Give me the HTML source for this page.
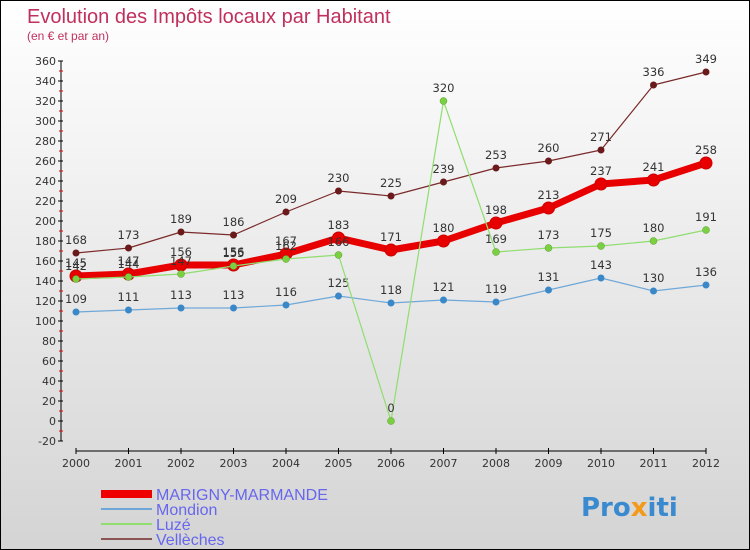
<!DOCTYPE html>
<html><head><meta charset="utf-8"><style>
body{margin:0}
#c{width:748px;height:548px;border:1px solid #000;background:linear-gradient(#fff,#d4d4d4);position:relative;font-family:"DejaVu Sans","Liberation Sans",sans-serif;overflow:hidden}
</style></head><body>
<div id="c">
<svg id="s" width="748" height="548">
<text x="26" y="22" font-size="20" fill="#c0305e" font-family="Liberation Sans, sans-serif">Evolution des Impôts locaux par Habitant</text>
<text x="26" y="39" font-size="12" fill="#c0305e" font-family="Liberation Sans, sans-serif">(en € et par an)</text>
<g id="ax"></g><g id="ser"></g>
<g font-family="Liberation Sans, sans-serif">
<rect x="100" y="489" width="51" height="8" fill="#e00"/>
<text x="155" y="499" font-size="16" fill="#6666ee">MARIGNY-MARMANDE</text>
<rect x="100" y="507" width="51" height="2" fill="#6fa8d8"/>
<text x="155" y="514" font-size="16" fill="#6666ee">Mondion</text>
<rect x="100" y="522" width="51" height="2" fill="#90dd70"/>
<text x="155" y="529" font-size="16" fill="#6666ee">Luzé</text>
<rect x="100" y="537" width="51" height="2" fill="#8b5555"/>
<text x="155" y="544" font-size="16" fill="#6666ee">Vellèches</text>
</g>
<text x="580" y="515" font-size="26" font-weight="bold" fill="#3a8ad0">Pro<tspan fill="#f39a1a">x</tspan>iti</text>
</svg></div>
<script>
const years=["2000","2001","2002","2003","2004","2005","2006","2007","2008","2009","2010","2011","2012"];
const marigny=[145,147,156,156,167,183,171,180,198,213,237,241,258];
const mondion=[109,111,113,113,116,125,118,121,119,131,143,130,136];
const luze=[142,144,147,155,162,166,0,320,169,173,175,180,191];
const velleches=[168,173,189,186,209,230,225,239,253,260,271,336,349];
const yTicks=[-20,0,20,40,60,80,100,120,140,160,180,200,220,240,260,280,300,320,340,360];
const NS="http://www.w3.org/2000/svg";
const X=i=>75+i*52.5, Y=v=>420-v;
function mk(p,t,a){const e=document.createElementNS(NS,t);for(const k in a)e.setAttribute(k,a[k]);p.appendChild(e);return e;}
const ax=document.getElementById('ax'),ser=document.getElementById('ser');
let l=mk(ax,'line',{x1:60,y1:Y(360),x2:60,y2:Y(-20),stroke:'#000'});

yTicks.forEach((v,k)=>{mk(ax,'line',{x1:57,x2:62,y1:Y(v),y2:Y(v),stroke:'#000'});
 if(k>0) mk(ax,'line',{x1:58,x2:62,y1:Y(v)+10,y2:Y(v)+10,stroke:'#e00'});
 const t=mk(ax,'text',{x:55,y:Y(v)+4,'font-size':11,fill:'#333','text-anchor':'end'});t.textContent=v;
 });
l=mk(ax,'line',{x1:X(0),y1:450,x2:X(12),y2:450,stroke:'#000'});

years.forEach((y,i)=>{mk(ax,'line',{x1:X(i),x2:X(i),y1:447,y2:453,stroke:'#000'});
 const t=mk(ax,'text',{x:X(i),y:466,'font-size':11,fill:'#333','text-anchor':'middle'});t.textContent=y;
 });
function draw(d,name,col,w,r,fill,stroke,sw){
 const g=mk(ser,'g',{});
 mk(g,'polyline',{points:d.map((v,i)=>X(i)+','+Y(v)).join(' '),fill:'none',stroke:col,'stroke-width':w,'stroke-linejoin':'round'});
 d.forEach((v,i)=>{const c=mk(g,'circle',{cx:X(i),cy:Y(v),r:r,fill:fill,stroke:stroke,'stroke-width':sw});
  
  const t=mk(g,'text',{x:X(i),y:Y(v)-9,'font-size':11.5,fill:'#333','text-anchor':'middle'});t.textContent=v;
  });
}
draw(velleches,'velleches','#7a2a2a',1.2,3.5,'#6a1a1a','#6a1a1a',0);
draw(mondion,'mondion','#6fa8d8',1.2,3.5,'#3a88c8','#3a88c8',0);
draw(marigny,'marigny','#e80000',7,6,'#e80000','#c00',1);
draw(luze,'luze','#90dd70',1.2,3.5,'#7ad040','#5a9a30',0.5);
</script>
</body></html>
